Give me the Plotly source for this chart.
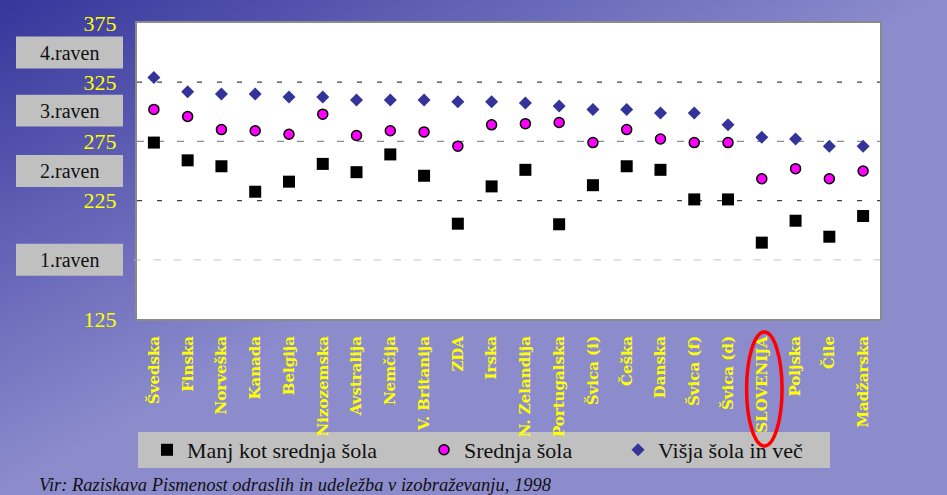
import base64
import plotly.graph_objects as go

countries = ["Švedska", "Finska", "Norveška", "Kanada", "Belgija", "Nizozemska",
             "Avstralija", "Nemčija", "V. Britanija", "ZDA", "Irska", "N. Zelandija",
             "Portugalska", "Švica (i)", "Češka", "Danska", "Švica (f)", "Švica (d)",
             "SLOVENIJA", "Poljska", "Čile", "Madžarska"]
manj_kot_srednja = [274, 259, 254, 232.5, 241, 256, 249, 264, 246, 205.5, 237, 251,
                    205, 238, 254, 251, 226, 226, 189.5, 208, 194.5, 212]
srednja = [302, 296, 285, 284, 281, 298, 280, 284, 283, 271, 289, 290,
           291, 274, 285, 277, 274, 274, 243.5, 252, 243.5, 250]
visja = [329, 317, 315, 315, 312.5, 312.5, 310, 310, 310, 308.5, 308.5, 307.5,
         305, 302, 302, 299, 299, 289, 278.5, 277, 271, 271]
y_ticks = [125, 225, 275, 325, 375]
levels = ["1.raven", "2.raven", "3.raven", "4.raven"]
level_centers = [175, 250, 301, 350]
grid_values = [175, 225, 275, 325]
source = "Vir: Raziskava Pismenost odraslih in udeležba v izobraževanju, 1998"

W, H = 947, 495
L, R, T, B = 137, 67, 23, 176
pw, ph = W - L - R, H - T - B

svg = f'''<svg xmlns="http://www.w3.org/2000/svg" width="{W}" height="{H}" preserveAspectRatio="none">
<defs><linearGradient id="g" x1="0" y1="0" x2="0.5" y2="0.5" spreadMethod="pad">
<stop offset="0" stop-color="#35359b"/><stop offset="0.5" stop-color="#6262b6"/>
<stop offset="1" stop-color="#8c8ccd"/></linearGradient></defs>
<rect width="{W}" height="{H}" fill="url(#g)"/></svg>'''
bg_uri = "data:image/svg+xml;base64," + base64.b64encode(svg.encode()).decode()

serif = "Liberation Serif"

fig = go.Figure()
fig.add_trace(go.Scatter(x=countries, y=manj_kot_srednja, mode="markers",
                         name="Manj kot srednja šola", legend="legend",
                         marker=dict(symbol="square", size=12, color="black")))
fig.add_trace(go.Scatter(x=countries, y=srednja, mode="markers",
                         name="Srednja šola", legend="legend2",
                         marker=dict(symbol="circle", size=10, color="#ff00ff",
                                     line=dict(color="black", width=1.5))))
fig.add_trace(go.Scatter(x=countries, y=visja, mode="markers",
                         name="Višja šola in več", legend="legend3",
                         marker=dict(symbol="diamond", size=10, color="#333399")))

shapes = []
# white plot area
shapes.append(dict(type="rect", xref="paper", yref="paper", x0=0, x1=1, y0=0, y1=1,
                   fillcolor="white", line=dict(width=0), layer="below"))
# legend background box
shapes.append(dict(type="rect", xref="paper", yref="paper",
                   x0=(138 - L) / pw, x1=(830 - L) / pw,
                   y0=(H - B - 468) / ph, y1=(H - B - 432) / ph,
                   fillcolor="#c0c0c0", line=dict(width=0), layer="below"))
# level boxes
for lab, c in zip(levels, level_centers):
    shapes.append(dict(type="rect", xref="paper", yref="y",
                       x0=(16 - L) / pw, x1=(123 - L) / pw, y0=c - 13.5, y1=c + 13.5,
                       fillcolor="#c0c0c0", line=dict(width=0), layer="above"))
# gridlines
grid_styles = {175: ("#d0d0d0", "7px,13px", -0.004), 225: ("#404040", "5px,15px", 0),
               275: ("#8c8c8c", "7px,13px", 0), 325: ("#404040", "5px,15px", 0)}
for gv in grid_values:
    col, dash, x0 = grid_styles[gv]
    shapes.append(dict(type="line", xref="paper", yref="y", x0=x0, x1=1, y0=gv, y1=gv,
                       line=dict(color=col, width=1.3, dash=dash), layer="below"))
# red ellipse around SLOVENIJA
shapes.append(dict(type="circle", xref="x", yref="paper",
                   x0=17.55, x1=18.6,
                   y0=(H - B - 446) / ph, y1=(H - B - 332) / ph,
                   line=dict(color="#ff0000", width=3.5)))

annotations = []
for lab, c in zip(levels, level_centers):
    annotations.append(dict(text=lab, xref="paper", yref="y", x=(69.5 - L) / pw, y=c,
                            showarrow=False, xanchor="center", yanchor="middle",
                            font=dict(family=serif, size=20, color="#111111")))
annotations.append(dict(text="<i>" + source + "</i>", xref="paper", yref="paper",
                        x=(37 - L) / pw, y=(H - B - 485) / ph, showarrow=False,
                        xanchor="left", yanchor="middle",
                        font=dict(family=serif, size=18.5, color="#111111")))

def leg(xpx):
    return dict(x=(xpx - L) / pw, y=(H - B - 450) / ph, xanchor="left", yanchor="middle",
                bgcolor="rgba(0,0,0,0)", borderwidth=0, orientation="h",
                font=dict(family=serif, size=22, color="#111111"),
                itemwidth=30, tracegroupgap=0)

fig.update_layout(
    width=W, height=H,
    margin=dict(l=L, r=R, t=T, b=B, autoexpand=False),
    paper_bgcolor="#6a6ab8",
    plot_bgcolor="white",
    showlegend=True,
    legend=leg(147), legend2=leg(424), legend3=leg(618),
    xaxis=dict(type="category", range=[-0.5, len(countries) - 0.5],
               tickangle=-90, showgrid=False, zeroline=False,
               showline=True, mirror=True, linecolor="#8a8a8a", linewidth=2,
               ticks="outside", ticklen=9, tickcolor="rgba(0,0,0,0)",
               tickfont=dict(family="DejaVu Serif", size=15, color="#ffff00", weight="bold")),
    yaxis=dict(range=[125, 375], tickvals=y_ticks, ticktext=[str(v) for v in y_ticks],
               showgrid=False, zeroline=False,
               showline=True, mirror=True, linecolor="#8a8a8a", linewidth=2,
               ticks="outside", ticklen=14, tickcolor="rgba(0,0,0,0)",
               tickfont=dict(family=serif, size=22, color="#ffff00")),
    shapes=shapes,
    annotations=annotations,
    images=[dict(source=bg_uri, xref="paper", yref="paper",
                 x=-L / pw, y=1 + T / ph, sizex=W / pw, sizey=H / ph,
                 xanchor="left", yanchor="top", sizing="stretch", layer="below")],
)

fig.write_html("out.html", config={"displayModeBar": False},
               post_script="document.body.style.margin='0';")
